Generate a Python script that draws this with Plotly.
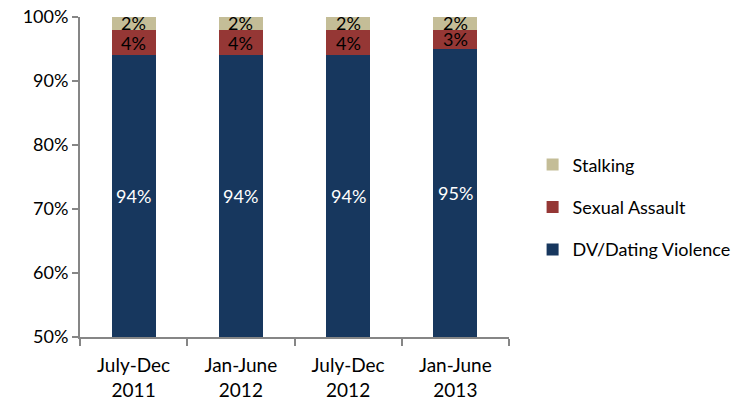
import plotly.graph_objects as go

periods = ["July-Dec<br>2011", "Jan-June<br>2012", "July-Dec<br>2012", "Jan-June<br>2013"]
dv_dating = [94, 94, 94, 95]
sexual_assault = [4, 4, 4, 3]
stalking = [2, 2, 2, 2]

y_ticks = [50, 60, 70, 80, 90, 100]
y_tick_labels = ["50%", "60%", "70%", "80%", "90%", "100%"]

FONT = "Lato, Open Sans, sans-serif"
AXIS_MIN = 50

# (name, values, colour, legend rank) - stacked bottom to top
series = [
    ("DV/Dating Violence", dv_dating, "#17375E", 3),
    ("Sexual Assault", sexual_assault, "#953735", 2),
    ("Stalking", stalking, "#C4BD97", 1),
]

fig = go.Figure()
for name, vals, color, rank in series:
    fig.add_trace(go.Bar(
        x=periods, y=vals, name=name, legendgroup=name, legendrank=rank,
        marker=dict(color=color, line=dict(width=0)),
        width=0.41,
    ))

# Segment value labels, centred on the visible part of each segment
annotations = []
for i, p in enumerate(periods):
    base = 0
    for k, (name, vals, color, _) in enumerate(series):
        lo, hi = base, base + vals[i]
        base = hi
        mid = (max(lo, AXIS_MIN) + hi) / 2
        annotations.append(dict(
            x=p, y=mid, xref="x", yref="y",
            text=f"{vals[i]}%", showarrow=False,
            font=dict(family=FONT, size=18, color="white" if k == 0 else "black"),
        ))

fig.update_layout(
    width=744, height=404,
    margin=dict(l=80, r=235, t=17, b=67, autoexpand=False),
    paper_bgcolor="white", plot_bgcolor="white",
    barmode="stack", bargap=0.59,
    font=dict(family=FONT, size=18, color="black"),
    showlegend=True,
    legend=dict(
        traceorder="grouped", tracegroupgap=16,
        x=1.055, xanchor="left", y=0.405, yanchor="middle",
        font=dict(family=FONT, size=18, color="black"),
        itemwidth=30,
    ),
    annotations=annotations,
    xaxis=dict(
        showline=True, linecolor="#868686", linewidth=2,
        ticks="outside", ticklen=7, tickcolor="#868686", tickwidth=2,
        tickson="boundaries", showgrid=False, automargin=False,
        ticklabelstandoff=10,
        tickfont=dict(family=FONT, size=19, color="black"),
    ),
    yaxis=dict(
        range=[AXIS_MIN, 100], tickvals=y_ticks, ticktext=y_tick_labels,
        showline=True, linecolor="#868686", linewidth=2,
        ticks="outside", ticklen=6, tickcolor="#868686", tickwidth=2,
        showgrid=False, zeroline=False, automargin=False,
        tickfont=dict(family=FONT, size=18, color="black"),
    ),
)

fig.write_html("out.html")
